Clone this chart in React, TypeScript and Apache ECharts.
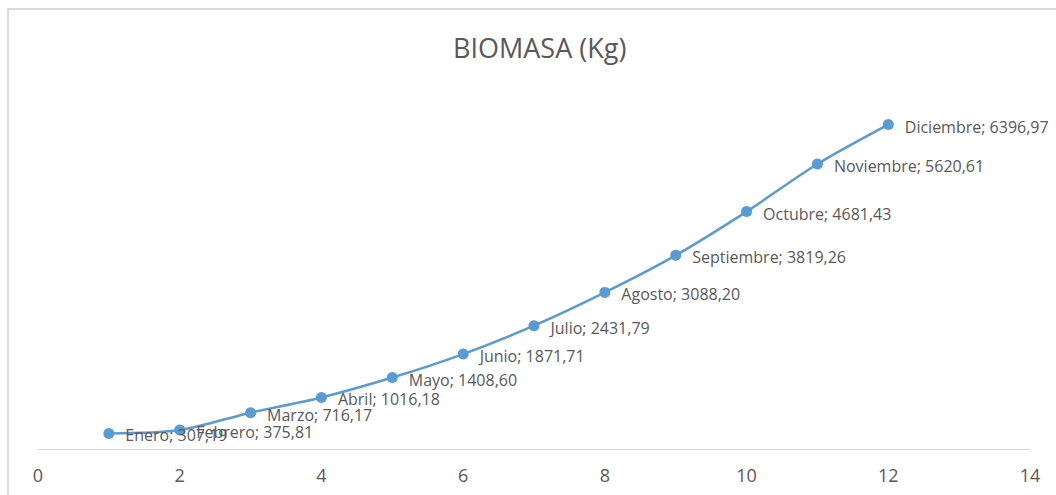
import React, { useEffect, useRef } from "react";
import * as echarts from "echarts";

const months = ["Enero", "Febrero", "Marzo", "Abril", "Mayo", "Junio", "Julio", "Agosto", "Septiembre", "Octubre", "Noviembre", "Diciembre"];
const xValues = [1, 2, 3, 4, 5, 6, 7, 8, 9, 10, 11, 12];
const biomasa = [307.19, 375.81, 716.17, 1016.18, 1408.6, 1871.71, 2431.79, 3088.2, 3819.26, 4681.43, 5620.61, 6396.97];

export default function App() {
  const ref = useRef<HTMLDivElement>(null);
  useEffect(() => {
    if (!ref.current) return;
    const chart = echarts.init(ref.current, null, { renderer: "svg" });
    const font = "'Open Sans', 'Noto Sans', sans-serif";
    chart.setOption({
      animation: false,
      backgroundColor: "#ffffff",
      title: {
        text: "BIOMASA (Kg)",
        left: 448,
        top: 29,
        textStyle: { fontFamily: font, fontSize: 27, fontWeight: "normal", color: "#595959" },
      },
      graphic: [
        {
          type: "rect",
          shape: { x: 8, y: 9, width: 1200, height: 600 },
          style: { fill: "none", stroke: "#d9d9d9", lineWidth: 2 },
          silent: true,
        },
      ],
      grid: { left: 38, right: 26, top: 94, bottom: 46 },
      xAxis: {
        type: "value",
        min: 0,
        max: 14,
        interval: 2,
        axisLine: { show: true, onZero: false, lineStyle: { color: "#d9d9d9", width: 1 } },
        axisTick: { show: false },
        splitLine: { show: false },
        axisLabel: { color: "#595959", fontFamily: font, fontSize: 18, margin: 17 },
      },
      yAxis: {
        type: "value",
        min: 0,
        max: 7000,
        show: false,
        splitLine: { show: false },
      },
      series: [
        {
          type: "line",
          smooth: 0.3,
          data: xValues.map((x, i) => ({ name: months[i], value: [x, biomasa[i]] })),
          symbol: "circle",
          symbolSize: 11,
          itemStyle: { color: "#5b9bd5" },
          lineStyle: { color: "#5b9bd5", width: 2.5 },
          label: {
            show: true,
            position: "right",
            distance: 11,
            offset: [0, 2],
            color: "#595959",
            fontFamily: font,
            fontSize: 16,
            formatter: (p: any) => p.name + "; " + p.value[1].toFixed(2).replace(".", ","),
          },
        },
      ],
    });
    return () => chart.dispose();
  }, []);
  return <div ref={ref} style={{ position: "fixed", left: 0, top: 0, width: 1056, height: 495 }} />;
}
